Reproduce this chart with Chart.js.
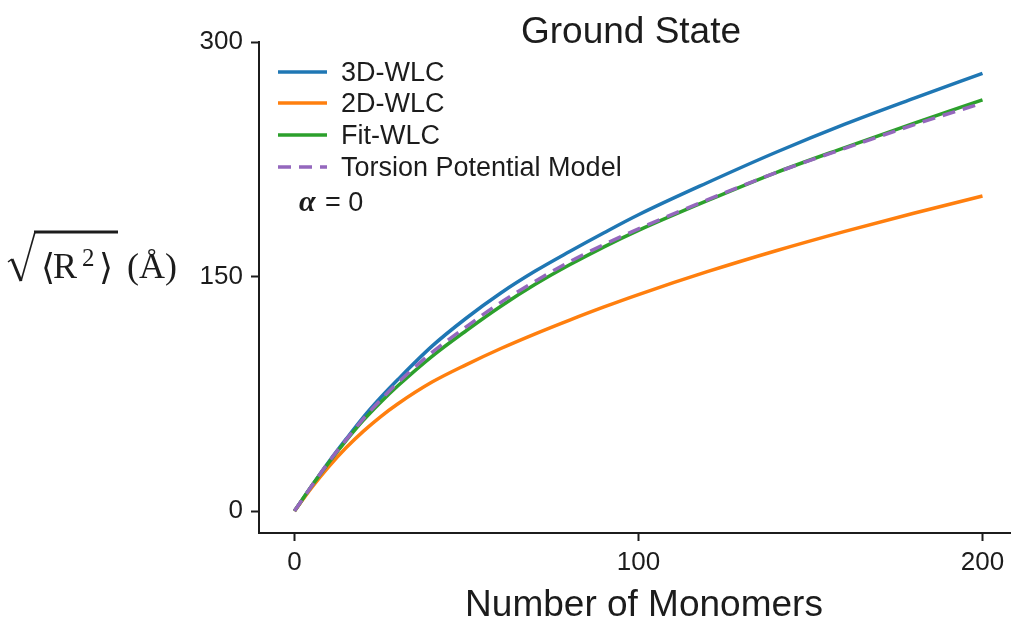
<!DOCTYPE html>
<html lang="en">
<head>
<meta charset="UTF-8">
<title>Ground State</title>
<script src="https://cdn.jsdelivr.net/npm/chart.js"></script>
<style>
  html, body { margin: 0; padding: 0; background: #fff; overflow: hidden; }
  canvas { display: block; }
</style>
</head>
<body>
<canvas id="chart" width="1011" height="621"></canvas>
<script>
// End-to-end distance vs chain length, ground state (alpha = 0)
const monomers = [0, 5, 10, 15, 20, 25, 30, 40, 50, 60, 70, 80, 90, 100, 120, 140, 160, 180, 200];
const wlc3d    = [0, 16, 31.5, 46, 60, 72.5, 84, 105.5, 123.5, 139.5, 153.5, 166, 178, 189.5, 210, 229.5, 247.5, 264, 280];
const wlc2d    = [0, 15, 28.5, 40.5, 51, 60.3, 68.5, 82.5, 93.7, 104, 113.4, 122.2, 130.6, 138.5, 153.1, 166.5, 178.9, 190.5, 201.5];
const fitWlc   = [0, 16, 31, 45, 58, 69.5, 80, 99, 115.5, 131, 145, 157.5, 169, 179.5, 198.5, 216.5, 232.5, 248, 263];
const torsion  = [0, 16, 31.5, 45.5, 59, 71, 82, 101.5, 118, 133.5, 147, 159.5, 170.5, 180.5, 199, 216.5, 232, 247, 261];

const xTicks = [0, 100, 200];
const yTicks = [0, 150, 300];

const INK = '#1c1c1c';
const SANS = '"Liberation Sans", Arial, Helvetica, sans-serif';
const SERIF = '"Liberation Serif", "DejaVu Serif", "DejaVu Sans", serif';

const series = [
  { label: '3D-WLC', values: wlc3d, color: '#1f77b4', dash: [] },
  { label: '2D-WLC', values: wlc2d, color: '#ff7f0e', dash: [] },
  { label: 'Fit-WLC', values: fitWlc, color: '#2ca02c', dash: [] },
  { label: 'Torsion Potential Model', values: torsion, color: '#9467bd', dash: [13, 8] }
];

const datasets = series.map((s, i) => ({
  label: s.label,
  data: monomers.map((m, j) => ({ x: m, y: s.values[j] })),
  borderColor: s.color,
  borderWidth: 3.5,
  borderDash: s.dash,
  cubicInterpolationMode: 'monotone',
  pointRadius: 0,
  fill: false,
  order: series.length - i   // last one (dashed) ends up on top
}));

// title, legend, annotation and axis labels
const overlay = {
  id: 'overlay',
  afterDraw(chart) {
    const ctx = chart.ctx;
    ctx.save();
    ctx.fillStyle = INK;
    ctx.textBaseline = 'alphabetic';

    ctx.font = '37px ' + SANS;
    ctx.textAlign = 'center';
    ctx.fillText('Ground State', 631, 43);
    ctx.fillText('Number of Monomers', 644, 616);

    // legend
    ctx.textAlign = 'left';
    ctx.font = '27px ' + SANS;
    const rows = [72, 103, 135, 167];
    series.forEach((s, i) => {
      const y = rows[i];
      ctx.beginPath();
      ctx.strokeStyle = s.color;
      ctx.lineWidth = 3.5;
      ctx.setLineDash(s.dash);
      ctx.moveTo(278, y);
      ctx.lineTo(327, y);
      ctx.stroke();
      ctx.setLineDash([]);
      ctx.fillText(s.label, 341, y + 9);
    });

    // alpha = 0
    ctx.font = 'bold italic 30px ' + SERIF;
    ctx.fillText('\u03B1', 299, 211);
    ctx.font = '27px ' + SANS;
    ctx.fillText('= 0', 325, 211);

    // y label: sqrt(<R^2>) (Å)
    ctx.strokeStyle = INK;
    ctx.lineCap = 'butt';
    ctx.lineJoin = 'miter';
    ctx.lineWidth = 1.5;
    ctx.beginPath();
    ctx.moveTo(8, 262);
    ctx.lineTo(12, 259);
    ctx.stroke();
    ctx.lineWidth = 3;
    ctx.beginPath();
    ctx.moveTo(12, 259);
    ctx.lineTo(21, 281);
    ctx.stroke();
    ctx.lineWidth = 1.6;
    ctx.beginPath();
    ctx.moveTo(21, 281);
    ctx.lineTo(35, 232);
    ctx.stroke();
    ctx.lineWidth = 3;
    ctx.beginPath();
    ctx.moveTo(34, 232);
    ctx.lineTo(118, 232);
    ctx.stroke();

    ctx.font = '36px ' + SERIF;
    ctx.fillText('\u27E8', 41, 279);
    ctx.fillText('R', 53, 278);
    ctx.fillText('\u27E9', 99, 279);
    ctx.fillText('(\u00C5)', 127, 278);
    ctx.font = '25px ' + SERIF;
    ctx.fillText('2', 82, 266);

    ctx.restore();
  }
};

const axisGrid = {
  display: true,
  drawOnChartArea: false,
  drawTicks: true,
  tickLength: 8,
  tickWidth: 2,
  tickColor: INK
};

new Chart(document.getElementById('chart'), {
  type: 'line',
  data: { datasets },
  options: {
    responsive: false,
    devicePixelRatio: 1,
    animation: false,
    layout: { padding: { left: 0, right: 1, top: 42, bottom: 0 } },
    plugins: {
      legend: { display: false },
      title: { display: false },
      tooltip: { enabled: false }
    },
    scales: {
      x: {
        type: 'linear',
        min: -10.3,
        max: 208,
        afterBuildTicks: s => { s.ticks = xTicks.map(v => ({ value: v })); },
        afterFit: s => { s.height = 88; },
        grid: axisGrid,
        border: { display: true, color: INK, width: 2 },
        ticks: { color: INK, font: { family: SANS, size: 26 }, padding: 6, maxRotation: 0 }
      },
      y: {
        type: 'linear',
        min: -14,
        max: 300,
        afterBuildTicks: s => { s.ticks = yTicks.map(v => ({ value: v })); },
        afterFit: s => { s.width = 259; },
        grid: axisGrid,
        border: { display: true, color: INK, width: 2 },
        ticks: { color: INK, font: { family: SANS, size: 26 }, padding: 8 }
      }
    }
  },
  plugins: [overlay]
});
</script>
</body>
</html>
